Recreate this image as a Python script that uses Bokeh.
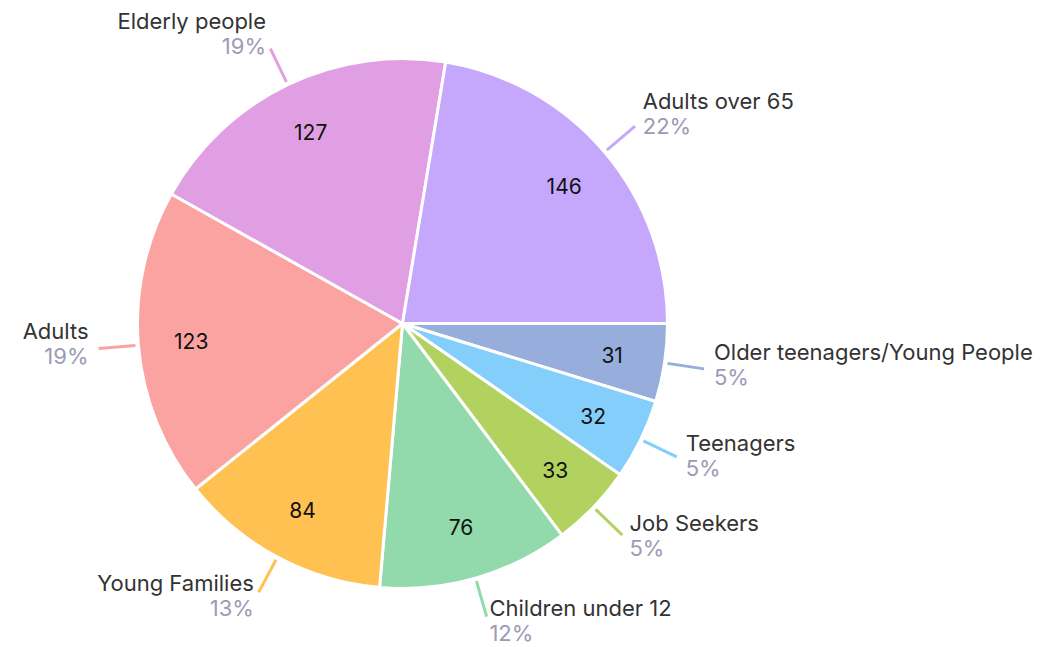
import math
from bokeh.plotting import figure
from bokeh.models import Range1d, ColumnDataSource
from bokeh.core.properties import value
from bokeh.embed import file_html
from bokeh.resources import INLINE

# ---- data ----
categories = ["Older teenagers/Young People", "Teenagers", "Job Seekers",
              "Children under 12", "Young Families", "Adults",
              "Elderly people", "Adults over 65"]
counts = [31, 32, 33, 76, 84, 123, 127, 146]
colors = ["#97AEDC", "#83CEFA", "#B1D25E", "#92D9AB",
          "#FFC252", "#FBA3A1", "#E19FE3", "#C5A8FC"]

# ---- layout ----
W, H = 1061, 647
CX, CY = 402, 324
R = 265
FONT = "Inter"

total = sum(counts)
starts, ends, mids = [], [], []
acc = 0
for v in counts:
    a0 = acc / total * 2 * math.pi
    acc += v
    a1 = acc / total * 2 * math.pi
    starts.append(-a1)
    ends.append(-a0)
    mids.append((a0 + a1) / 2)  # clockwise from 3 o'clock

p = figure(width=W, height=H, output_backend="svg", toolbar_location=None,
           x_range=Range1d(0, W), y_range=Range1d(0, H),
           min_border=0, x_axis_location=None, y_axis_location=None)
p.grid.visible = False
p.outline_line_color = None
p.background_fill_color = "white"
p.border_fill_color = "white"

src = ColumnDataSource(dict(start=starts, end=ends, color=colors))
p.wedge(x=CX, y=CY, radius=R, start_angle="start", end_angle="end",
        fill_color="color", line_color="white", line_width=3, source=src)

# value labels inside
vx = [CX + 0.8 * R * math.cos(m) for m in mids]
vy = [CY - 0.8 * R * math.sin(m) for m in mids]
p.text(x=vx, y=vy, text=[str(v) for v in counts], text_align="center",
       text_baseline="middle", text_font=value(FONT), text_font_size="21px",
       text_color="#111111")

# leader lines
x0 = [CX + (R + 3) * math.cos(m) for m in mids]
y0 = [CY - (R + 3) * math.sin(m) for m in mids]
x1 = [CX + (R + 40) * math.cos(m) for m in mids]
y1 = [CY - (R + 40) * math.sin(m) for m in mids]
p.segment(x0=x0, y0=y0, x1=x1, y1=y1, line_color=colors, line_width=3)

# outer labels
for cat, v, m in zip(categories, counts, mids):
    ax = CX + (R + 50) * math.cos(m)
    ay = CY - (R + 50) * math.sin(m)
    align = "left" if math.cos(m) >= 0 else "right"
    pct = f"{round(v / total * 100)}%"
    p.text(x=[ax], y=[ay + 18.5], text=[cat], text_align=align,
           text_baseline="middle", text_font=value(FONT),
           text_font_size="22px", text_color="#333333")
    p.text(x=[ax], y=[ay - 6.5], text=[pct], text_align=align,
           text_baseline="middle", text_font=value(FONT),
           text_font_size="22px", text_color="#9B9BB5")

open("out.html", "w").write(file_html(p, INLINE))
